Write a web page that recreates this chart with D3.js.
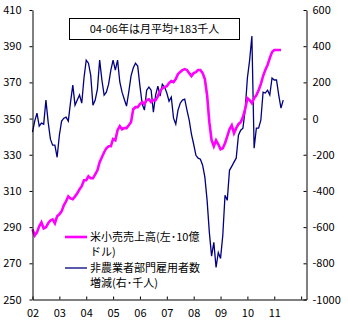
<!DOCTYPE html>
<html><head><meta charset="utf-8">
<script src="https://cdn.jsdelivr.net/npm/d3@7"></script>
<style>
body{margin:0;background:#fff;}
svg text{font-family:"Noto Sans CJK JP","Noto Sans",sans-serif;}
</style></head>
<body><svg id="c" width="348" height="325"></svg>
<script>
// Monthly series (index 0 = first month of "02")
const retailSales = [288.8,285.4,287.1,290.4,292.6,289.3,289.9,292.1,293.7,294.3,292.1,296.0,
297.1,298.7,302.0,304.3,307.0,305.9,305.4,307.0,308.7,310.9,312.6,315.9,
315.9,318.1,317.0,317.0,319.2,321.4,325.9,328.6,331.4,333.6,334.7,334.7,
338.6,338.0,343.6,345.8,344.1,344.7,344.7,346.3,348.0,355.2,356.3,356.3,
358.0,359.1,358.0,360.2,360.7,359.1,360.2,360.2,362.4,365.2,366.8,367.4,
367.9,369.6,370.7,370.1,371.8,374.6,375.7,376.8,377.3,376.8,375.1,373.5,
375.1,375.7,376.8,376.8,375.1,371.8,362.9,348.0,338.0,334.7,338.0,335.8,
333.0,333.6,336.4,340.2,344.1,346.3,341.9,344.7,346.9,348.0,350.8,355.2,
361.3,360.2,358.5,361.3,362.9,365.7,369.0,373.5,376.8,379.6,383.4,386.7,
387.9,387.9,387.9,387.9];
const payrollChange = [-75,-14,30,-42,-25,-31,102,-20,-114,-147,-147,-214,
-92,-14,2,8,-14,91,185,74,102,130,85,224,
323,306,240,74,102,163,323,213,130,146,190,268,
323,268,323,202,146,107,69,146,235,279,306,290,
179,80,47,157,174,157,35,130,179,124,190,174,
141,96,118,2,-31,47,85,102,107,47,-9,-86,
-142,-203,-219,-225,-258,-324,-452,-629,-760,-684,-823,-740,
-773,-646,-424,-452,-286,-264,-241,-219,-92,-64,-53,47,
224,323,456,-164,-53,-53,-9,146,141,157,130,224,
213,213,130,58,102];
const yearLabels = ["02","03","04","05","06","07","08","09","10","11"];
const leftTicks = [250,270,290,310,330,350,370,390,410];
const rightTicks = [-1000,-800,-600,-400,-200,0,200,400,600];
const legendRetail = ["米小売売上高(左･10億","ドル)"];
const legendPayroll = ["非農業者部門雇用者数","増減(右･千人)"];
const annotation = "04-06年は月平均+183千人";

const svg = d3.select("#c");
const x = d3.scaleLinear().domain([0,122.4]).range([32.5,306.5]);
const yL = d3.scaleLinear().domain([250,410]).range([299.5,10]);
const yR = d3.scaleLinear().domain([-1000,600]).range([299.5,10]);

// lines
svg.append("path").datum(payrollChange)
  .attr("fill","none").attr("stroke","#000080").attr("stroke-width",1.3)
  .attr("d",d3.line().x((d,i)=>x(i)).y(d=>yR(d)));
svg.append("path").datum(retailSales)
  .attr("fill","none").attr("stroke","#ff00ff").attr("stroke-width",2.6)
  .attr("d",d3.line().x((d,i)=>x(i)).y(d=>yL(d)));

// axes
const fs = "11px";
const gL = svg.append("g").attr("transform",`translate(${x(0)},0)`)
  .call(d3.axisLeft(yL).tickValues(leftTicks).tickSize(3).tickPadding(8).tickSizeOuter(0));
const gR = svg.append("g").attr("transform",`translate(${x(122.4)},0)`)
  .call(d3.axisRight(yR).tickValues(rightTicks).tickSizeInner(-3).tickSizeOuter(0).tickPadding(6)
    .tickFormat(d=>String(d)));
const xTicks = d3.range(0,121,12);
const gX = svg.append("g").attr("transform",`translate(0,${yL(250)})`)
  .call(d3.axisBottom(x).tickValues(xTicks).tickSizeInner(-3).tickSizeOuter(0).tickPadding(10)
    .tickFormat((d,i)=>yearLabels[i]||""));
[gL,gR,gX].forEach(g=>{
  g.selectAll("text").attr("font-size",fs).attr("fill","#000")
   .attr("font-family",'"Noto Sans CJK JP","Noto Sans",sans-serif');
  g.selectAll("line,path").attr("stroke","#000");
});

// annotation box
svg.append("rect").attr("x",69.5).attr("y",18.5).attr("width",170).attr("height",21)
  .attr("fill","#fff").attr("stroke","#000");
svg.append("text").attr("x",154.5).attr("y",29).attr("dy","0.35em")
  .attr("text-anchor","middle").attr("font-size",fs).text(annotation);

// legend
const lg = svg.append("g");
lg.append("line").attr("x1",65).attr("x2",87).attr("y1",237).attr("y2",237)
  .attr("stroke","#ff00ff").attr("stroke-width",2.6);
lg.append("line").attr("x1",65).attr("x2",87).attr("y1",268).attr("y2",268)
  .attr("stroke","#000080").attr("stroke-width",1.3);
legendRetail.forEach((t,i)=>lg.append("text").attr("x",90).attr("y",237+i*15).attr("dy","0.35em")
  .attr("font-size",fs).text(t));
legendPayroll.forEach((t,i)=>lg.append("text").attr("x",90).attr("y",268+i*15).attr("dy","0.35em")
  .attr("font-size",fs).text(t));
</script></body></html>
